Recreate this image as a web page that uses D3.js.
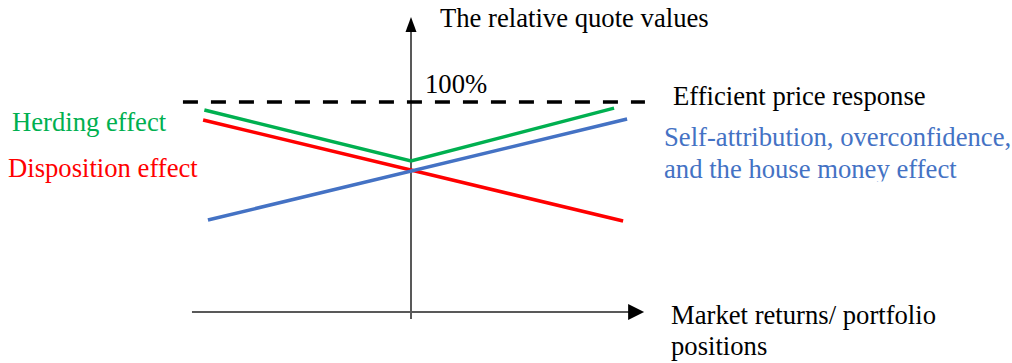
<!DOCTYPE html>
<html>
<head>
<meta charset="utf-8">
<script src="https://cdn.jsdelivr.net/npm/d3@7"></script>
<style>
    html, body { margin: 0; padding: 0; background: #fff; }
    svg { display: block; }
</style>
</head>
<body>
<div id="chart"></div>
<script>
// conceptual values: x = market return (0 = origin), y = relative quote value in %
const herdingX = [-0.984, 0, 0.967];
const herdingY = [96.2, 71.9, 97.1];
const dispositionX = [-0.99, 1.01];
const dispositionY = [91.4, 43.3];
const selfAttrX = [-0.967, 1.029];
const selfAttrY = [43.8, 91.9];
const efficientX = [-1.086, 1.114];
const efficientY = [100, 100];

const xAxisExtent = [-1.043, 1.11];
const yAxisExtent = [-3.3, 140.5];

const width = 1012, height = 363;

const svg = d3.select("#chart")
    .append("svg")
    .attr("width", width)
    .attr("height", height);

const x = d3.scaleLinear().domain([-1, 1]).range([201, 621]);
const y = d3.scaleLinear().domain([0, 100]).range([312, 102]);

const zip = (xs, ys) => xs.map((d, i) => [d, ys[i]]);
const line = d3.line().x(d => x(d[0])).y(d => y(d[1]));

// the text box of the blue label cuts off the descenders of its second line
svg.append("defs")
    .append("clipPath")
    .attr("id", "blue-box")
    .append("rect")
    .attr("x", 650).attr("y", 110)
    .attr("width", 362).attr("height", 71.5);

// axes
svg.append("line")
    .attr("x1", x(xAxisExtent[0])).attr("x2", x(xAxisExtent[1]) - 10)
    .attr("y1", y(0)).attr("y2", y(0))
    .attr("stroke", "#595959").attr("stroke-width", 2);
svg.append("path")
    .attr("d", `M${x(xAxisExtent[1])},${y(0)} l-16,-8 l0,16 Z`)
    .attr("fill", "#000");

svg.append("line")
    .attr("x1", x(0)).attr("x2", x(0))
    .attr("y1", y(yAxisExtent[0])).attr("y2", y(yAxisExtent[1]) + 10)
    .attr("stroke", "#595959").attr("stroke-width", 2);
svg.append("path")
    .attr("d", `M${x(0)},${y(yAxisExtent[1])} l-5.5,15 l11,0 Z`)
    .attr("fill", "#000");

// efficient response (dashed)
svg.append("path")
    .attr("d", line(zip(efficientX, efficientY)))
    .attr("fill", "none")
    .attr("stroke", "#000")
    .attr("stroke-width", 3.5)
    .attr("stroke-dasharray", "15,13");

const series = [
    { xs: herdingX, ys: herdingY, color: "#00B050" },
    { xs: dispositionX, ys: dispositionY, color: "#FF0000" },
    { xs: selfAttrX, ys: selfAttrY, color: "#4472C4" }
];

svg.selectAll(".series")
    .data(series)
    .enter()
    .append("path")
    .attr("class", "series")
    .attr("d", d => line(zip(d.xs, d.ys)))
    .attr("fill", "none")
    .attr("stroke", d => d.color)
    .attr("stroke-width", 3.5)
    .attr("stroke-linejoin", "miter");

// labels
const labels = [
    { text: "The relative quote values", x: 440, y: 27, color: "#000" },
    { text: "100%", x: 425, y: 93, color: "#000" },
    { text: "Efficient price response", x: 673, y: 105, color: "#000" },
    { text: "Self-attribution, overconfidence,", x: 664, y: 146, color: "#4472C4", clip: true },
    { text: "and the house money effect", x: 664, y: 178, color: "#4472C4", clip: true },
    { text: "Herding effect", x: 12, y: 131, color: "#00B050" },
    { text: "Disposition effect", x: 8, y: 177, color: "#FF0000" },
    { text: "Market returns/ portfolio", x: 671, y: 324, color: "#000" },
    { text: "positions", x: 671, y: 355, color: "#000" }
];

svg.selectAll(".label")
    .data(labels)
    .enter()
    .append("text")
    .attr("class", "label")
    .attr("x", d => d.x)
    .attr("y", d => d.y)
    .attr("fill", d => d.color)
    .attr("clip-path", d => d.clip ? "url(#blue-box)" : null)
    .style("font-family", "'Liberation Serif', serif")
    .style("font-size", "26.67px")
    .text(d => d.text);
</script>
</body>
</html>
